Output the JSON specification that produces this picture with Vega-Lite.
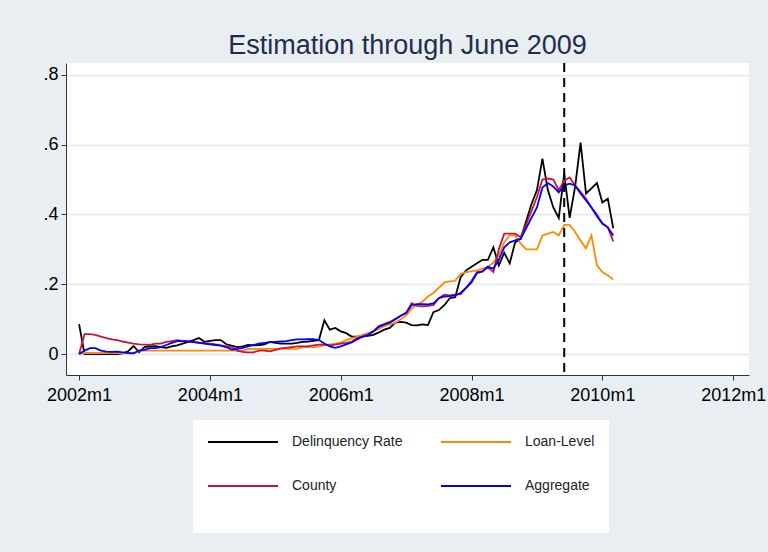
{
  "$schema": "https://vega.github.io/schema/vega-lite/v6.json",
  "width": 683,
  "height": 312,
  "autosize": {"type": "none"},
  "padding": {"left": 66, "top": 63, "right": 19, "bottom": 177},
  "background": "#e8eef1",
  "config": {"view": {"fill": "white", "stroke": null}, "font": "Liberation Sans"},
  "title": {"text": "Estimation through June 2009", "fontSize": 27, "fontWeight": "normal", "color": "#1f2d4d", "anchor": "middle", "offset": 10, "dy": 29, "baseline": "alphabetic", "font": "Liberation Sans"},
  "layer": [
    {
      "data": {"values": [
        {"t":0,"d":0.086,"l":0.0,"c":0.0,"a":0.0},
        {"t":1,"d":0,"l":0.003,"c":0.057,"a":0.01},
        {"t":2,"d":0,"l":0.003,"c":0.057,"a":0.017},
        {"t":3,"d":0,"l":0.003,"c":0.055,"a":0.017},
        {"t":4,"d":0,"l":0.003,"c":0.05,"a":0.01},
        {"t":5,"d":0,"l":0.003,"c":0.046,"a":0.007},
        {"t":6,"d":0,"l":0.003,"c":0.042,"a":0.006},
        {"t":7,"d":0,"l":0.003,"c":0.04,"a":0.007},
        {"t":8,"d":0.002,"l":0.003,"c":0.036,"a":0.005},
        {"t":9,"d":0.008,"l":0.003,"c":0.033,"a":0.003},
        {"t":10,"d":0.023,"l":0.003,"c":0.03,"a":0.002},
        {"t":11,"d":0.005,"l":0.01,"c":0.028,"a":0.01},
        {"t":12,"d":0.02,"l":0.01,"c":0.027,"a":0.012},
        {"t":13,"d":0.022,"l":0.01,"c":0.026,"a":0.017},
        {"t":14,"d":0.023,"l":0.01,"c":0.03,"a":0.017},
        {"t":15,"d":0.02,"l":0.01,"c":0.03,"a":0.02},
        {"t":16,"d":0.018,"l":0.01,"c":0.035,"a":0.026},
        {"t":17,"d":0.022,"l":0.01,"c":0.037,"a":0.032},
        {"t":18,"d":0.025,"l":0.01,"c":0.04,"a":0.037},
        {"t":19,"d":0.03,"l":0.01,"c":0.038,"a":0.037},
        {"t":20,"d":0.035,"l":0.01,"c":0.036,"a":0.036},
        {"t":21,"d":0.04,"l":0.01,"c":0.035,"a":0.034},
        {"t":22,"d":0.046,"l":0.01,"c":0.033,"a":0.032},
        {"t":23,"d":0.035,"l":0.01,"c":0.031,"a":0.03},
        {"t":24,"d":0.038,"l":0.01,"c":0.03,"a":0.028},
        {"t":25,"d":0.04,"l":0.01,"c":0.028,"a":0.026},
        {"t":26,"d":0.04,"l":0.01,"c":0.025,"a":0.024},
        {"t":27,"d":0.028,"l":0.01,"c":0.022,"a":0.02},
        {"t":28,"d":0.024,"l":0.01,"c":0.02,"a":0.013},
        {"t":29,"d":0.02,"l":0.01,"c":0.01,"a":0.015},
        {"t":30,"d":0.022,"l":0.01,"c":0.006,"a":0.018},
        {"t":31,"d":0.026,"l":0.015,"c":0.005,"a":0.022},
        {"t":32,"d":0.025,"l":0.015,"c":0.005,"a":0.026},
        {"t":33,"d":0.026,"l":0.015,"c":0.01,"a":0.03},
        {"t":34,"d":0.028,"l":0.015,"c":0.01,"a":0.032},
        {"t":35,"d":0.035,"l":0.015,"c":0.008,"a":0.034},
        {"t":36,"d":0.032,"l":0.015,"c":0.012,"a":0.035},
        {"t":37,"d":0.03,"l":0.015,"c":0.016,"a":0.036},
        {"t":38,"d":0.03,"l":0.015,"c":0.018,"a":0.037},
        {"t":39,"d":0.03,"l":0.015,"c":0.02,"a":0.04},
        {"t":40,"d":0.032,"l":0.015,"c":0.022,"a":0.042},
        {"t":41,"d":0.035,"l":0.02,"c":0.022,"a":0.042},
        {"t":42,"d":0.036,"l":0.02,"c":0.023,"a":0.043},
        {"t":43,"d":0.038,"l":0.02,"c":0.025,"a":0.043},
        {"t":44,"d":0.04,"l":0.022,"c":0.027,"a":0.04},
        {"t":45,"d":0.097,"l":0.025,"c":0.028,"a":0.03},
        {"t":46,"d":0.07,"l":0.028,"c":0.025,"a":0.022},
        {"t":47,"d":0.075,"l":0.03,"c":0.027,"a":0.018},
        {"t":48,"d":0.065,"l":0.033,"c":0.03,"a":0.022},
        {"t":49,"d":0.06,"l":0.04,"c":0.032,"a":0.028},
        {"t":50,"d":0.05,"l":0.045,"c":0.035,"a":0.033},
        {"t":51,"d":0.05,"l":0.05,"c":0.046,"a":0.042},
        {"t":52,"d":0.05,"l":0.055,"c":0.05,"a":0.05},
        {"t":53,"d":0.052,"l":0.06,"c":0.055,"a":0.055},
        {"t":54,"d":0.055,"l":0.065,"c":0.065,"a":0.065},
        {"t":55,"d":0.062,"l":0.072,"c":0.08,"a":0.078},
        {"t":56,"d":0.07,"l":0.08,"c":0.086,"a":0.085},
        {"t":57,"d":0.075,"l":0.085,"c":0.092,"a":0.09},
        {"t":58,"d":0.09,"l":0.09,"c":0.1,"a":0.1},
        {"t":59,"d":0.092,"l":0.1,"c":0.11,"a":0.11},
        {"t":60,"d":0.09,"l":0.11,"c":0.117,"a":0.118},
        {"t":61,"d":0.083,"l":0.13,"c":0.146,"a":0.14},
        {"t":62,"d":0.082,"l":0.142,"c":0.138,"a":0.143},
        {"t":63,"d":0.085,"l":0.15,"c":0.137,"a":0.143},
        {"t":64,"d":0.083,"l":0.165,"c":0.138,"a":0.142},
        {"t":65,"d":0.12,"l":0.175,"c":0.14,"a":0.145},
        {"t":66,"d":0.126,"l":0.19,"c":0.16,"a":0.16},
        {"t":67,"d":0.14,"l":0.205,"c":0.17,"a":0.165},
        {"t":68,"d":0.16,"l":0.208,"c":0.168,"a":0.166},
        {"t":69,"d":0.163,"l":0.21,"c":0.17,"a":0.168},
        {"t":70,"d":0.22,"l":0.23,"c":0.172,"a":0.175},
        {"t":71,"d":0.24,"l":0.235,"c":0.19,"a":0.19},
        {"t":72,"d":0.25,"l":0.237,"c":0.21,"a":0.205},
        {"t":73,"d":0.26,"l":0.24,"c":0.235,"a":0.232},
        {"t":74,"d":0.27,"l":0.245,"c":0.237,"a":0.237},
        {"t":75,"d":0.27,"l":0.25,"c":0.25,"a":0.25},
        {"t":76,"d":0.306,"l":0.262,"c":0.235,"a":0.245},
        {"t":77,"d":0.254,"l":0.283,"c":0.3,"a":0.27},
        {"t":78,"d":0.29,"l":0.32,"c":0.345,"a":0.306},
        {"t":79,"d":0.26,"l":0.34,"c":0.345,"a":0.32},
        {"t":80,"d":0.32,"l":0.34,"c":0.345,"a":0.326},
        {"t":81,"d":0.33,"l":0.317,"c":0.335,"a":0.33},
        {"t":82,"d":0.38,"l":0.3,"c":0.37,"a":0.36},
        {"t":83,"d":0.43,"l":0.3,"c":0.41,"a":0.39},
        {"t":84,"d":0.47,"l":0.3,"c":0.45,"a":0.42},
        {"t":85,"d":0.56,"l":0.34,"c":0.5,"a":0.477},
        {"t":86,"d":0.47,"l":0.345,"c":0.503,"a":0.49},
        {"t":87,"d":0.42,"l":0.35,"c":0.5,"a":0.48},
        {"t":88,"d":0.39,"l":0.34,"c":0.47,"a":0.463},
        {"t":89,"d":0.517,"l":0.37,"c":0.497,"a":0.483},
        {"t":90,"d":0.39,"l":0.37,"c":0.506,"a":0.488},
        {"t":91,"d":0.48,"l":0.35,"c":0.483,"a":0.483},
        {"t":92,"d":0.606,"l":0.325,"c":0.465,"a":0.46},
        {"t":93,"d":0.46,"l":0.303,"c":0.445,"a":0.44},
        {"t":94,"d":0.475,"l":0.34,"c":0.42,"a":0.42},
        {"t":95,"d":0.49,"l":0.254,"c":0.4,"a":0.395},
        {"t":96,"d":0.434,"l":0.235,"c":0.374,"a":0.374},
        {"t":97,"d":0.445,"l":0.225,"c":0.363,"a":0.363},
        {"t":98,"d":0.36,"l":0.214,"c":0.323,"a":0.34}
      ]},
      "transform": [{"fold": ["d", "l", "c", "a"], "as": ["s", "v"]}],
      "mark": {"type": "line", "strokeWidth": 1.8, "clip": true},
      "encoding": {
        "x": {"field": "t", "type": "quantitative",
          "scale": {"domain": [-2.4, 122.9], "nice": false, "zero": false},
          "axis": {"values": [0, 24, 48, 72, 96, 120], "labelExpr": "(2002 + datum.value / 12) + 'm1'", "title": null, "grid": false, "labelFontSize": 18, "labelColor": "black", "tickSize": 5, "tickColor": "#333333", "domainColor": "#333333", "labelPadding": 6, "labelFlush": false, "labelOverlap": false}},
        "y": {"field": "v", "type": "quantitative",
          "scale": {"domain": [-0.06, 0.834], "nice": false, "zero": false},
          "axis": {"values": [0, 0.2, 0.4, 0.6, 0.8], "labelExpr": "datum.value == 0 ? '0' : replace(format(datum.value, '.1f'), '0.', '.')", "title": null, "grid": true, "gridColor": "#e6eef1", "gridWidth": 2, "labelFontSize": 18, "labelColor": "black", "tickSize": 5, "tickColor": "#333333", "domainColor": "#333333", "labelPadding": 3}},
        "color": {"field": "s", "type": "nominal",
          "scale": {"domain": ["d", "c", "l", "a"], "range": ["#000000", "#c8143c", "#ff8a00", "#0000ff"]},
          "legend": {"orient": "none", "legendX": 127, "legendY": 357, "columns": 2, "title": " ", "titleOrient": "bottom", "titleFontSize": 14, "titlePadding": 12, "symbolType": "M-1,0H9", "symbolSize": 196, "symbolStrokeWidth": 2, "labelFontSize": 14, "labelColor": "#222222", "labelOffset": 69, "columnPadding": 34, "rowPadding": 29, "fillColor": "white", "padding": 14, "labelLimit": 300,
            "labelExpr": "datum.value == 'd' ? 'Delinquency Rate' : datum.value == 'l' ? 'Loan-Level' : datum.value == 'c' ? 'County' : 'Aggregate'"}}
      }
    },
    {
      "data": {"values": [{"t": 89}]},
      "mark": {"type": "rule", "strokeDash": [9, 6], "strokeWidth": 2, "color": "black"},
      "encoding": {"x": {"field": "t", "type": "quantitative"}}
    }
  ]
}
